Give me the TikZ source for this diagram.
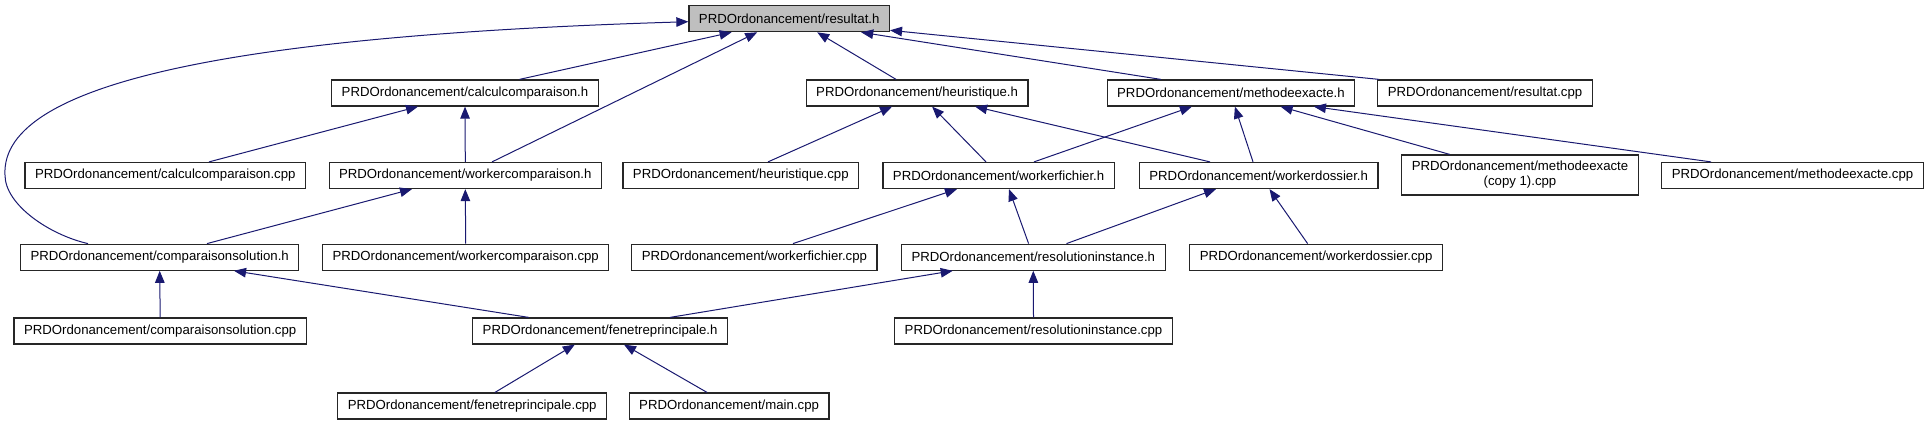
\documentclass[tikz,border=0pt]{standalone}
\usepackage{fontspec}
\setmainfont{Liberation Sans}
\usetikzlibrary{arrows.meta,calc}
\definecolor{depcol}{RGB}{25,25,112}
\definecolor{rootcol}{RGB}{191,191,191}

\begin{document}
\begin{tikzpicture}[x=1pt,y=-1pt,>={Triangle[length=12pt,width=9.5pt]},
  filebox/.style={draw=black!85,line width=1.2pt,fill=white,minimum height=26pt,inner xsep=10pt,inner ysep=2pt,font=\fontsize{13.2pt}{15pt}\selectfont},
  dep/.style={depcol,line width=1pt,->}]
\useasboundingbox (0,0) rectangle (1928,425);
% top: the header everyone includes
\node[filebox,fill=rootcol] (resultat) at (789.2,18.7) {PRDOrdonancement/resultat.h};
% rank 1
\node[filebox] (calcH) at (465,93) {PRDOrdonancement/calculcomparaison.h};
\node[filebox] (heurH) at (917.1,93) {PRDOrdonancement/heuristique.h};
\node[filebox] (methH) at (1230.9,93) {PRDOrdonancement/methodeexacte.h};
\node[filebox] (resCpp) at (1485,93) {PRDOrdonancement/resultat.cpp};
% rank 2
\node[filebox] (calcCpp) at (165.3,175.5) {PRDOrdonancement/calculcomparaison.cpp};
\node[filebox] (wcompH) at (465.3,175.5) {PRDOrdonancement/workercomparaison.h};
\node[filebox] (heurCpp) at (740.8,175.5) {PRDOrdonancement/heuristique.cpp};
\node[filebox] (wfichH) at (998.6,175.5) {PRDOrdonancement/workerfichier.h};
\node[filebox] (wdossH) at (1258.7,175.5) {PRDOrdonancement/workerdossier.h};
\node[filebox,minimum height=40pt,align=center] (methCopy) at (1520,175) {PRDOrdonancement/methodeexacte\\(copy 1).cpp};
\node[filebox] (methCpp) at (1792.5,175.5) {PRDOrdonancement/methodeexacte.cpp};
% rank 3
\node[filebox] (compH) at (159.7,257.2) {PRDOrdonancement/comparaisonsolution.h};
\node[filebox] (wcompCpp) at (465.7,257.2) {PRDOrdonancement/workercomparaison.cpp};
\node[filebox] (wfichCpp) at (754.4,257.2) {PRDOrdonancement/workerfichier.cpp};
\node[filebox] (resolH) at (1033.3,257.2) {PRDOrdonancement/resolutioninstance.h};
\node[filebox] (wdossCpp) at (1316.1,257.2) {PRDOrdonancement/workerdossier.cpp};
% rank 4
\node[filebox] (compCpp) at (160.2,331) {PRDOrdonancement/comparaisonsolution.cpp};
\node[filebox] (fenH) at (600.1,331) {PRDOrdonancement/fenetreprincipale.h};
\node[filebox] (resolCpp) at (1033.5,331) {PRDOrdonancement/resolutioninstance.cpp};
% rank 5
\node[filebox] (fenCpp) at (472.2,406) {PRDOrdonancement/fenetreprincipale.cpp};
\node[filebox] (mainCpp) at (729.1,406) {PRDOrdonancement/main.cpp};
% includes of resultat.h
\draw[dep] ([xshift=-71.7pt]compH.north) .. controls (50,235) and (5,205) .. (5,175)
  .. controls (0,80) and (250,35) .. ([yshift=-3pt]resultat.west);
\draw[dep] ([xshift=54.5pt]calcH.north) -- ([xshift=-57.6pt]resultat.south);
\draw[dep] ([xshift=26.7pt]wcompH.north) -- ([xshift=-32pt]resultat.south);
\draw[dep] ([xshift=-21pt]heurH.north) -- ([xshift=28pt]resultat.south);
\draw[dep] ([xshift=-70pt]methH.north) -- ([xshift=72pt]resultat.south);
\draw[dep] ([xshift=2pt]resCpp.north west) -- ([yshift=2pt]resultat.south east);
% rank 1 headers
\draw[dep] ([xshift=43.7pt]calcCpp.north) -- ([xshift=-47pt]calcH.south);
\draw[dep] (wcompH.north) -- (calcH.south);
\draw[dep] ([xshift=27.2pt]heurCpp.north) -- ([xshift=-25pt]heurH.south);
\draw[dep] ([xshift=-12.6pt]wfichH.north) -- ([xshift=15pt]heurH.south);
\draw[dep] ([xshift=-48.7pt]wdossH.north) -- ([xshift=58pt]heurH.south);
\draw[dep] ([xshift=35.4pt]wfichH.north) -- ([xshift=-39pt]methH.south);
\draw[dep] ([xshift=-5.7pt]wdossH.north) -- ([xshift=4pt]methH.south);
\draw[dep] ([xshift=-70.3pt]methCopy.north) -- ([xshift=49.7pt]methH.south);
\draw[dep] ([xshift=-81.5pt]methCpp.north) -- ([xshift=83pt]methH.south);
% rank 2 headers
\draw[dep] ([xshift=47.3pt]compH.north) -- ([xshift=-53.3pt]wcompH.south);
\draw[dep] (wcompCpp.north) -- (wcompH.south);
\draw[dep] ([xshift=38.6pt]wfichCpp.north) -- ([xshift=-41.6pt]wfichH.south);
\draw[dep] ([xshift=-4.7pt]resolH.north) -- ([xshift=10.4pt]wfichH.south);
\draw[dep] ([xshift=33.2pt]resolH.north) -- ([xshift=-42.7pt]wdossH.south);
\draw[dep] ([xshift=-8.5pt]wdossCpp.north) -- ([xshift=10.8pt]wdossH.south);
% rank 3 headers
\draw[dep] (compCpp.north) -- (compH.south);
\draw[dep] ([xshift=-71.4pt]fenH.north) -- ([xshift=74.3pt]compH.south);
\draw[dep] ([xshift=69.9pt]fenH.north) -- ([xshift=-80.6pt]resolH.south);
\draw[dep] (resolCpp.north) -- (resolH.south);
% rank 4 header
\draw[dep] ([xshift=22.8pt]fenCpp.north) -- ([xshift=-25.3pt]fenH.south);
\draw[dep] ([xshift=-22.1pt]mainCpp.north) -- ([xshift=23.9pt]fenH.south);
\end{tikzpicture}
\end{document}
